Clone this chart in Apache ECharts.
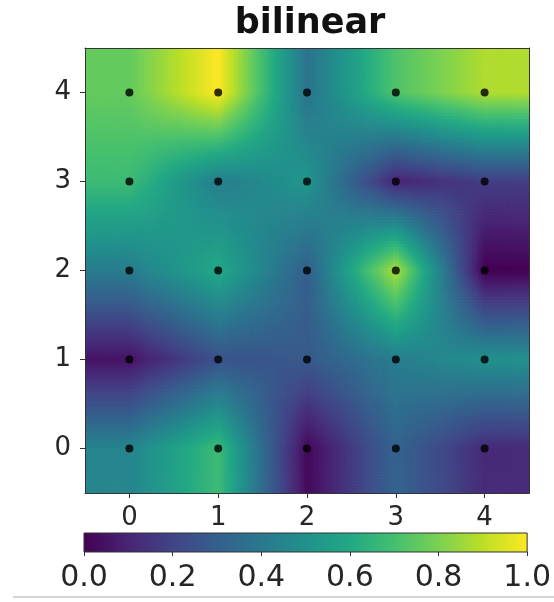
<!DOCTYPE html>
<html>
<head>
<meta charset="utf-8">
<script src="https://cdn.jsdelivr.net/npm/echarts@6/dist/echarts.min.js"></script>
<style>
    html, body { margin: 0; padding: 0; background: #fff; }
    #main { width: 554px; height: 602px; }
</style>
</head>
<body>
<div id="main"></div>
<script>
    // grid values, one array per row, row0 is y = 0 (bottom)
    var row0 = [0.45, 0.68, 0.02, 0.32, 0.12];
    var row1 = [0.05, 0.25, 0.28, 0.42, 0.50];
    var row2 = [0.42, 0.60, 0.30, 0.88, 0.00];
    var row3 = [0.68, 0.42, 0.52, 0.10, 0.18];
    var row4 = [0.76, 1.00, 0.38, 0.72, 0.88];
    var rows = [row0, row1, row2, row3, row4];

    var axisTicks = [0, 1, 2, 3, 4];
    var colorbarTicks = [0.0, 0.2, 0.4, 0.6, 0.8, 1.0];
    var colorbarRange = [0, 1];

    var VIRIDIS = ['#440154', '#482475', '#414487', '#355f8d', '#2a788e', '#21918c',
        '#22a884', '#44bf70', '#7ad151', '#bddf26', '#fde725'];
    var SUB = 30;
    var FONT = 'DejaVu Sans';
    var TEXT = '#262626';

    // bilinear lookup between grid centres, clamped at the edges (like imshow)
    function sample(x, y) {
        var n = rows.length - 1;
        var cx = Math.min(Math.max(x, 0), n);
        var cy = Math.min(Math.max(y, 0), n);
        var i0 = Math.min(Math.floor(cx), n - 1);
        var j0 = Math.min(Math.floor(cy), n - 1);
        var fx = cx - i0, fy = cy - j0;
        var bottom = rows[j0][i0] * (1 - fx) + rows[j0][i0 + 1] * fx;
        var top = rows[j0 + 1][i0] * (1 - fx) + rows[j0 + 1][i0 + 1] * fx;
        return bottom * (1 - fy) + top * fy;
    }

    var cells = [];
    var points = [];
    for (var j = 0; j < rows.length; j++) {
        for (var i = 0; i < rows[j].length; i++) {
            cells.push([axisTicks[i], axisTicks[j], rows[j][i]]);
            points.push([axisTicks[i], axisTicks[j]]);
        }
    }

    var chart = echarts.init(document.getElementById('main'));

    var frameAxis = {
        show: true,
        z: 10,
        axisLine: {onZero: false, lineStyle: {color: '#333', width: 1}},
        axisTick: {show: false},
        axisLabel: {show: false},
        splitLine: {show: false}
    };

    var option = {
        animation: false,
        title: {
            text: 'bilinear',
            left: 310,
            top: 6,
            padding: 0,
            textAlign: 'center',
            textStyle: {fontFamily: FONT, fontWeight: 'bold', fontSize: 35, color: '#111'}
        },
        grid: [
            {left: 85, top: 48, width: 444, height: 445},
            {left: 84, top: 533, width: 446, height: 19}
        ],
        xAxis: [
            {
                type: 'value', gridIndex: 0, min: -0.5, max: 4.5, z: 10,
                axisLine: {onZero: false, lineStyle: {color: '#333', width: 1}},
                axisTick: {length: 5, customValues: axisTicks, lineStyle: {color: '#333'}},
                axisLabel: {customValues: axisTicks, fontFamily: FONT, fontSize: 26, color: TEXT, margin: 12},
                splitLine: {show: false}
            },
            Object.assign({type: 'value', gridIndex: 0, min: -0.5, max: 4.5, position: 'top'}, frameAxis),
            {
                type: 'value', gridIndex: 1, min: colorbarRange[0], max: colorbarRange[1], interval: 0.2,
                axisLine: {show: false},
                axisTick: {length: 4, lineStyle: {color: '#333'}},
                axisLabel: {
                    fontFamily: FONT, fontSize: 30, color: TEXT, margin: 11,
                    customValues: colorbarTicks,
                    formatter: function (v) { return v.toFixed(1); }
                },
                splitLine: {show: false}
            }
        ],
        yAxis: [
            {
                type: 'value', gridIndex: 0, min: -0.5, max: 4.5, z: 10,
                axisLine: {onZero: false, lineStyle: {color: '#333', width: 1}},
                axisTick: {length: 5, customValues: axisTicks, lineStyle: {color: '#333'}},
                axisLabel: {customValues: axisTicks, fontFamily: FONT, fontSize: 26, color: TEXT, margin: 14},
                splitLine: {show: false}
            },
            Object.assign({type: 'value', gridIndex: 0, min: -0.5, max: 4.5, position: 'right'}, frameAxis),
            {
                type: 'value', gridIndex: 1, min: 0, max: 1, show: false
            }
        ],
        graphic: [{
            type: 'line',
            shape: {x1: 13, y1: 597, x2: 554, y2: 597},
            style: {stroke: '#d4d4d4', lineWidth: 2}
        }],
        series: [
            {
                type: 'custom',
                xAxisIndex: 0,
                yAxisIndex: 0,
                silent: true,
                z: 1,
                data: cells,
                renderItem: function (params, api) {
                    var cx = api.value(0), cy = api.value(1);
                    var p0 = api.coord([cx - 0.5, cy + 0.5]);
                    var p1 = api.coord([cx + 0.5, cy - 0.5]);
                    var w = (p1[0] - p0[0]) / SUB, h = (p1[1] - p0[1]) / SUB;
                    var children = [];
                    for (var a = 0; a < SUB; a++) {
                        for (var b = 0; b < SUB; b++) {
                            var v = sample(cx - 0.5 + (a + 0.5) / SUB, cy + 0.5 - (b + 0.5) / SUB);
                            children.push({
                                type: 'rect',
                                shape: {x: p0[0] + a * w, y: p0[1] + b * h, width: w + 0.7, height: h + 0.7},
                                style: {fill: echarts.color.lerp(v, VIRIDIS)}
                            });
                        }
                    }
                    return {type: 'group', children: children};
                }
            },
            {
                type: 'scatter',
                xAxisIndex: 0,
                yAxisIndex: 0,
                z: 5,
                silent: true,
                symbolSize: 8,
                itemStyle: {color: '#000'},
                data: points
            },
            {
                type: 'custom',
                xAxisIndex: 2,
                yAxisIndex: 2,
                silent: true,
                data: [colorbarRange],
                renderItem: function (params, api) {
                    var p0 = api.coord([api.value(0), 1]);
                    var p1 = api.coord([api.value(1), 0]);
                    var stops = VIRIDIS.map(function (c, k) {
                        return {offset: k / (VIRIDIS.length - 1), color: c};
                    });
                    return {
                        type: 'rect',
                        shape: {x: p0[0], y: p0[1], width: p1[0] - p0[0], height: p1[1] - p0[1]},
                        style: {
                            fill: new echarts.graphic.LinearGradient(0, 0, 1, 0, stops),
                            stroke: '#333',
                            lineWidth: 1
                        }
                    };
                }
            }
        ]
    };

    chart.setOption(option);
</script>
</body>
</html>
